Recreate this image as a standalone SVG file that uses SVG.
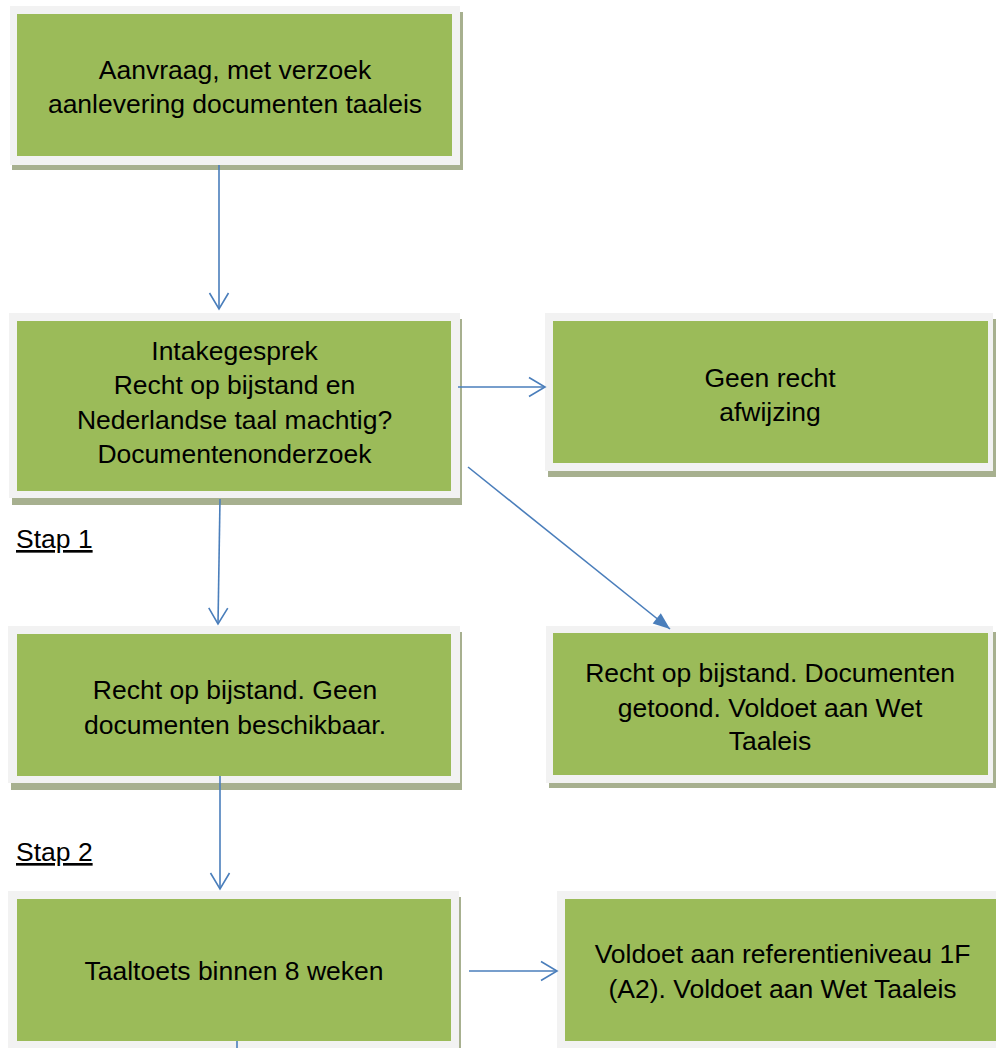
<svg xmlns="http://www.w3.org/2000/svg" width="996" height="1048" viewBox="0 0 996 1048">
<style>
.frame{fill:#F2F2F2}
.shadow{fill:#A7B08F}
.green{fill:#9BBB59}
.t{font-family:"Liberation Sans",Arial,sans-serif;font-size:26.5px;fill:#000;text-anchor:middle}
.lbl{font-family:"Liberation Sans",Arial,sans-serif;font-size:26.5px;fill:#000;text-decoration:underline}
.c{stroke:#4A7EBB;stroke-width:1.6;fill:none}
</style>
<defs>
<marker id="open" markerUnits="userSpaceOnUse" markerWidth="40" markerHeight="40" refX="0" refY="0" viewBox="-20 -20 40 40" orient="auto" overflow="visible">
<path d="M-16,-9.5 L0,0 L-16,9.5" fill="none" stroke="#4A7EBB" stroke-width="1.6"/>
</marker>
<marker id="solid" markerUnits="userSpaceOnUse" markerWidth="40" markerHeight="40" refX="0" refY="0" viewBox="-20 -20 40 40" orient="auto" overflow="visible">
<path d="M-17,-6.5 L0,0 L-17,6.5 Z" fill="#4A7EBB"/>
</marker>
</defs>
<rect width="996" height="1048" fill="#fff"/>

<g id="n1">
<rect class="shadow" x="12" y="12" width="451" height="158"/>
<rect class="frame" x="10" y="6" width="450" height="159"/>
<rect class="green" x="17" y="14" width="435" height="142"/>
<text class="t" x="235" y="79">Aanvraag, met verzoek</text>
<text class="t" x="235" y="113">aanlevering documenten taaleis</text>
</g>

<g id="n2">
<rect class="shadow" x="12" y="319" width="450" height="186"/>
<rect class="frame" x="9" y="313" width="451" height="185"/>
<rect class="green" x="17" y="321" width="434" height="170"/>
<text class="t" x="234.5" y="360">Intakegesprek</text>
<text class="t" x="234.5" y="394">Recht op bijstand en</text>
<text class="t" x="234.5" y="429">Nederlandse taal machtig?</text>
<text class="t" x="234.5" y="463">Documentenonderzoek</text>
</g>

<g id="n3">
<rect class="shadow" x="548" y="319" width="448" height="158"/>
<rect class="frame" x="545" y="313" width="448" height="158"/>
<rect class="green" x="553" y="321" width="435" height="142"/>
<text class="t" x="770" y="387">Geen recht</text>
<text class="t" x="770" y="421">afwijzing</text>
</g>

<g id="stap1">
<text class="lbl" x="16" y="548">Stap 1</text>
</g>

<g id="n4">
<rect class="shadow" x="11" y="632" width="451" height="158"/>
<rect class="frame" x="8" y="626" width="452" height="157"/>
<rect class="green" x="17" y="634" width="434" height="142"/>
<text class="t" x="235" y="699">Recht op bijstand. Geen</text>
<text class="t" x="235" y="734">documenten beschikbaar.</text>
</g>

<g id="n5">
<rect class="shadow" x="549" y="632" width="447" height="156"/>
<rect class="frame" x="546" y="626" width="447" height="157"/>
<rect class="green" x="553" y="633" width="435" height="142"/>
<text class="t" x="770" y="682">Recht op bijstand. Documenten</text>
<text class="t" x="770" y="717">getoond. Voldoet aan Wet</text>
<text class="t" x="770" y="750">Taaleis</text>
</g>

<g id="stap2">
<text class="lbl" x="16" y="861">Stap 2</text>
</g>

<g id="n6">
<rect class="shadow" x="11" y="897" width="450" height="151"/>
<rect class="frame" x="8" y="891" width="451" height="157"/>
<rect class="green" x="17" y="899" width="434" height="142"/>
<text class="t" x="234" y="980">Taaltoets binnen 8 weken</text>
</g>

<g id="n7">
<rect class="frame" x="557" y="891" width="439" height="157"/>
<rect class="green" x="565" y="899" width="431" height="142"/>
<text class="t" x="782.5" y="963">Voldoet aan referentieniveau 1F</text>
<text class="t" x="782.5" y="998">(A2). Voldoet aan Wet Taaleis</text>
</g>

<g id="connectors">
<line class="c" x1="219" y1="165" x2="219" y2="309" marker-end="url(#open)"/>
<line class="c" x1="458" y1="387" x2="545" y2="387" marker-end="url(#open)"/>
<line class="c" x1="468" y1="467" x2="670" y2="629" marker-end="url(#solid)"/>
<line class="c" x1="220" y1="499" x2="218" y2="624" marker-end="url(#open)"/>
<line class="c" x1="220" y1="776" x2="220" y2="889" marker-end="url(#open)"/>
<line class="c" x1="469" y1="971" x2="557" y2="971" marker-end="url(#open)"/>
<line class="c" x1="237" y1="1041" x2="237" y2="1048"/>
</g>
</svg>
